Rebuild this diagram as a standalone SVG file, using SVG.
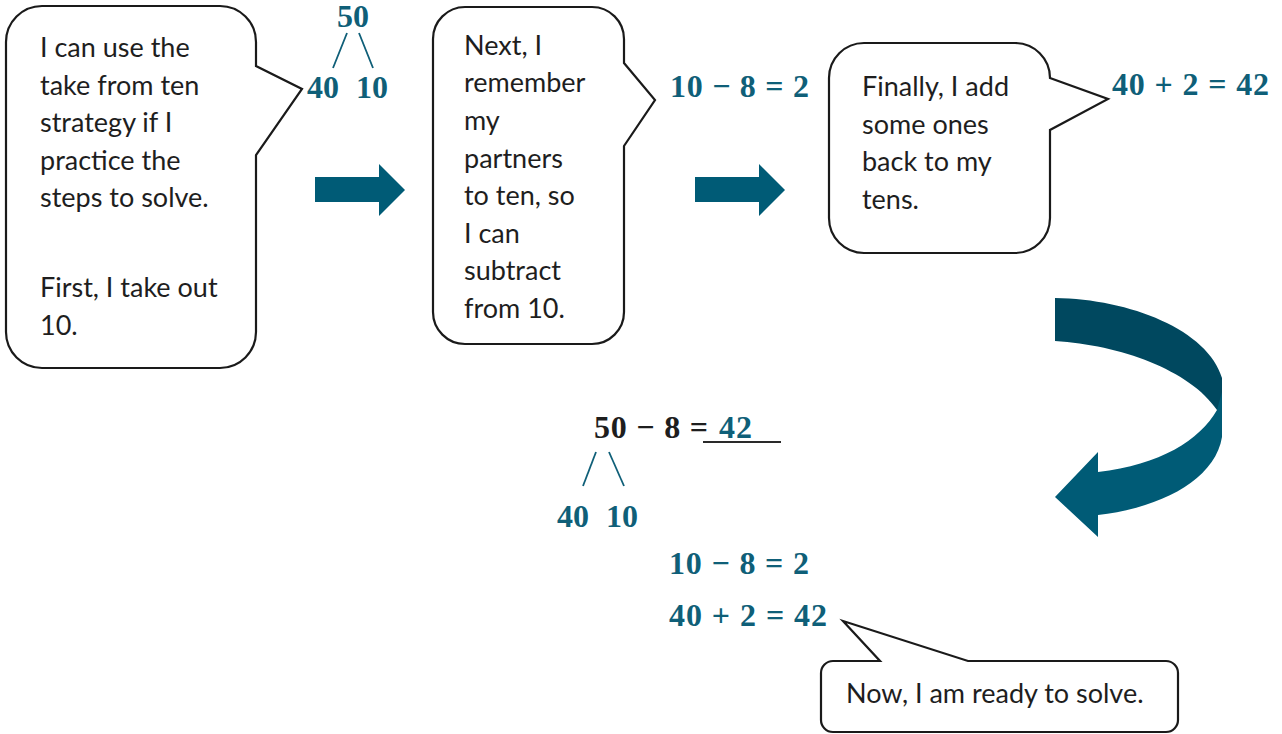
<svg xmlns="http://www.w3.org/2000/svg" width="1282" height="734" viewBox="0 0 1282 734">
<style>
.bubble{fill:#fff;stroke:#1a1a1a;stroke-width:2.2;stroke-linejoin:miter}
.txt{font-family:Lato,"Liberation Sans",sans-serif;font-size:27px;fill:#1e1e1e}
.math{font-family:"Liberation Serif",serif;font-weight:bold;font-size:32px;fill:#0f5f78}
.mathk{font-family:"Liberation Serif",serif;font-weight:bold;font-size:32px;fill:#1e1e1e}
.bond{stroke:#0f5f78;stroke-width:1.8;fill:none}
.arrow{fill:#005b76}
.arrowdark{fill:#00485f}
</style>
<rect width="1282" height="734" fill="#fff"/>
<g id="bubble1">
<path class="bubble" d="M42,6 H220 A36,36 0 0 1 256,42 V66 L302,89 L256,155 V332 A36,36 0 0 1 220,368 H42 A36,36 0 0 1 6,332 V42 A36,36 0 0 1 42,6 Z"/>
<text class="txt" x="40" y="57">I can use the</text>
<text class="txt" x="40" y="95">take from ten</text>
<text class="txt" x="40" y="132">strategy if I</text>
<text class="txt" x="40" y="170">practice the</text>
<text class="txt" x="40" y="207">steps to solve.</text>
<text class="txt" x="40" y="297">First, I take out</text>
<text class="txt" x="40" y="335">10.</text>
</g>
<g id="bond-top">
<text class="math" x="353" y="27" text-anchor="middle">50</text>
<line class="bond" x1="347" y1="33" x2="333" y2="68"/>
<line class="bond" x1="359" y1="33" x2="373" y2="68"/>
<text class="math" x="307" y="98">40</text>
<text class="math" x="356" y="98">10</text>
</g>
<g id="bubble2">
<path class="bubble" d="M465,7 H592 A32,32 0 0 1 624,39 V63 L655,100 L624,146 V312 A32,32 0 0 1 592,344 H465 A32,32 0 0 1 433,312 V39 A32,32 0 0 1 465,7 Z"/>
<text class="txt" x="464" y="55">Next, I</text>
<text class="txt" x="464" y="92">remember</text>
<text class="txt" x="464" y="130">my</text>
<text class="txt" x="464" y="168">partners</text>
<text class="txt" x="464" y="205">to ten, so</text>
<text class="txt" x="464" y="243">I can</text>
<text class="txt" x="464" y="280">subtract</text>
<text class="txt" x="464" y="318">from 10.</text>
</g>
<g id="eq-top1">
<text class="math" x="670" y="97" textLength="139" lengthAdjust="spacing">10 − 8 = 2</text>
</g>
<g id="bubble3">
<path class="bubble" d="M864,43 H1015 A35,35 0 0 1 1050,78 L1108,99 L1050,130 V218 A35,35 0 0 1 1015,253 H864 A35,35 0 0 1 829,218 V78 A35,35 0 0 1 864,43 Z"/>
<text class="txt" x="862" y="96">Finally, I add</text>
<text class="txt" x="862" y="134">some ones</text>
<text class="txt" x="862" y="171">back to my</text>
<text class="txt" x="862" y="209">tens.</text>
</g>
<g id="eq-top2">
<text class="math" x="1112" y="95" textLength="157" lengthAdjust="spacing">40 + 2 = 42</text>
</g>
<g id="problem">
<text class="mathk" x="594" y="438" textLength="114" lengthAdjust="spacing">50 − 8 =</text>
<text class="math" x="719" y="438" textLength="33" lengthAdjust="spacing">42</text>
<line x1="703" y1="442" x2="781" y2="442" stroke="#2a2a2a" stroke-width="2"/>
<line class="bond" x1="596" y1="452" x2="583" y2="486"/>
<line class="bond" x1="609" y1="452" x2="624" y2="486"/>
<text class="math" x="557" y="527">40</text>
<text class="math" x="606" y="527">10</text>
</g>
<g id="eq-bottom1">
<text class="math" x="669" y="574" textLength="140" lengthAdjust="spacing">10 − 8 = 2</text>
</g>
<g id="eq-bottom2">
<text class="math" x="669" y="626" textLength="158" lengthAdjust="spacing">40 + 2 = 42</text>
</g>
<g id="bubble4">
<path class="bubble" d="M833,661 H880 L843,621 L968,661 H1166 A12,12 0 0 1 1178,673 V720 A12,12 0 0 1 1166,732 H833 A12,12 0 0 1 821,720 V673 A12,12 0 0 1 833,661 Z"/>
<text class="txt" x="846" y="703">Now, I am ready to solve.</text>
</g>
<g id="connectors">
<polygon class="arrow" points="315,177 379,177 379,164 405,190 379,216 379,202 315,202"/>
<polygon class="arrow" points="695,177 759,177 759,164 785,190 759,216 759,202 695,202"/>
<path class="arrowdark" d="M1055,298 C1130,299 1208,330 1222,378 L1222,410 L1217,410 C1190,370 1120,345 1055,341 Z"/>
<path class="arrow" d="M1217,410 L1222,392 L1222,437 C1215,480 1160,508 1098,515 L1098,537 L1055,497 L1098,452 L1098,472 C1160,465 1200,440 1217,410 Z"/>
</g>
</svg>
